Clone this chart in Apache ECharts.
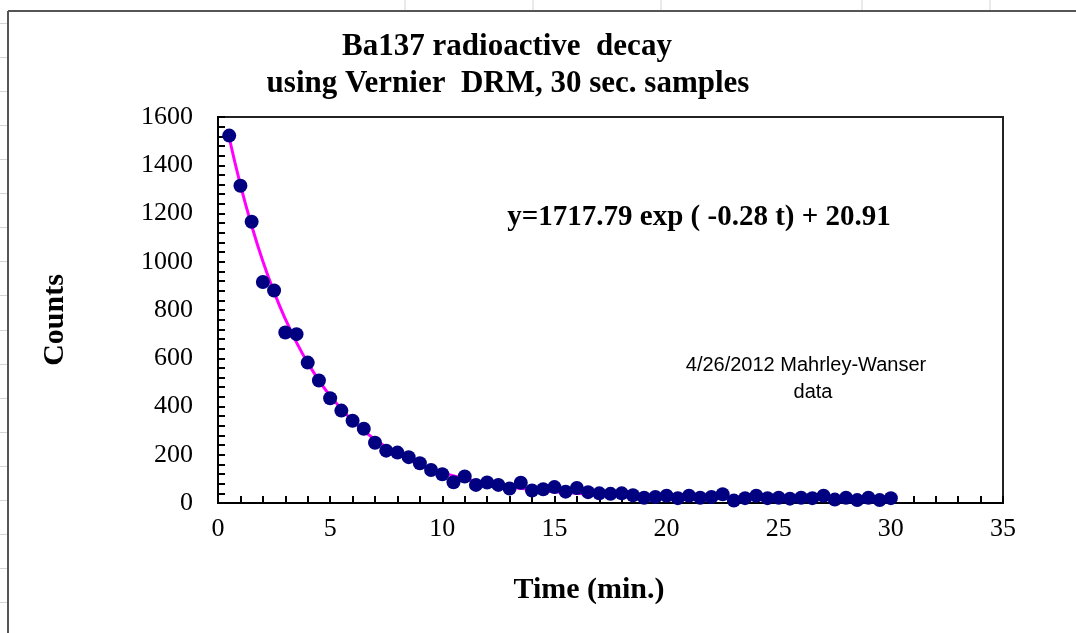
<!DOCTYPE html>
<html>
<head>
<meta charset="utf-8">
<script src="https://cdn.jsdelivr.net/npm/echarts@6/dist/echarts.min.js"></script>
<style>
  html, body { margin: 0; padding: 0; background: #fff; }
  #chart { width: 1076px; height: 633px; }
</style>
</head>
<body>
<div id="chart"></div>
<script>
// sample times (min), one every 30 s
var times = [0.5, 1, 1.5, 2, 2.5, 3, 3.5, 4, 4.5, 5, 5.5, 6, 6.5, 7, 7.5, 8, 8.5, 9, 9.5, 10,
  10.5, 11, 11.5, 12, 12.5, 13, 13.5, 14, 14.5, 15, 15.5, 16, 16.5, 17, 17.5, 18, 18.5, 19, 19.5, 20,
  20.5, 21, 21.5, 22, 22.5, 23, 23.5, 24, 24.5, 25, 25.5, 26, 26.5, 27, 27.5, 28, 28.5, 29, 29.5, 30];
// counts
var counts = [1523, 1315, 1166, 916, 881, 707, 700, 582, 508, 434, 383, 341, 308, 250, 217, 209, 190, 165, 137, 119,
  86, 110, 75, 85, 75, 60, 84, 52, 57, 66, 47, 62, 45, 40, 38, 40, 32, 22, 25, 30,
  20, 30, 22, 25, 36, 10, 20, 30, 20, 22, 18, 22, 20, 30, 14, 22, 12, 22, 12, 20];

// magenta fit curve
var fitTimes = [0.5, 1, 1.5, 2, 2.5, 3, 3.5, 4, 4.5, 5, 6, 7, 8, 9, 10, 12, 14, 16, 18, 20, 25, 30];
var fitCounts = [1514, 1319, 1150, 1002, 874, 763, 666, 581, 508, 445, 341, 263, 204, 159, 125, 81, 55, 40, 32, 27, 23, 21];

var titleLines = ['Ba137 radioactive  decay', 'using Vernier  DRM, 30 sec. samples'];
var equation = 'y=1717.79 exp ( -0.28 t) + 20.91';
var note = ['4/26/2012 Mahrley-Wanser', 'data'];
var xName = 'Time (min.)';
var yName = 'Counts';

var serif = '"Liberation Serif", "Times New Roman", serif';
var sans = '"Liberation Sans", Arial, sans-serif';

var chart = echarts.init(document.getElementById('chart'));

function pairs(xs, ys) {
  var out = [];
  for (var i = 0; i < xs.length; i++) {
    out.push([xs[i], ys[i]]);
  }
  return out;
}

// spreadsheet cell lines round the chart object
var sheetLines = [];
var colX = [405, 533, 661, 862, 990];
for (var i = 0; i < colX.length; i++) {
  sheetLines.push({ type: 'line', shape: { x1: colX[i], y1: 0, x2: colX[i], y2: 10 }, style: { stroke: '#d4d4d4', lineWidth: 1 } });
}
for (var k = 0; k < 18; k++) {
  var yy = Math.round(23 + k * 34.06) + 0.5;
  sheetLines.push({ type: 'line', shape: { x1: 0, y1: yy, x2: 7, y2: yy }, style: { stroke: '#d4d4d4', lineWidth: 1 } });
}
sheetLines.push({ type: 'line', shape: { x1: 8, y1: 11, x2: 1076, y2: 11 }, style: { stroke: '#555', lineWidth: 2 } });
sheetLines.push({ type: 'line', shape: { x1: 8, y1: 11, x2: 8, y2: 633 }, style: { stroke: '#555', lineWidth: 2 } });

var texts = [
  { type: 'text', style: { text: titleLines[0], x: 507, y: 31, font: 'bold 31px ' + serif, fill: '#000', textAlign: 'center' } },
  { type: 'text', style: { text: titleLines[1], x: 508, y: 68, font: 'bold 31px ' + serif, fill: '#000', textAlign: 'center' } },
  { type: 'text', style: { text: equation, x: 699, y: 203, font: 'bold 29px ' + serif, fill: '#000', textAlign: 'center' } },
  { type: 'text', style: { text: note[0], x: 806, y: 355, font: '20px ' + sans, fill: '#000', textAlign: 'center' } },
  { type: 'text', style: { text: note[1], x: 813, y: 382, font: '20px ' + sans, fill: '#000', textAlign: 'center' } },
  { type: 'text', style: { text: xName, x: 589, y: 575, font: 'bold 30px ' + serif, fill: '#000', textAlign: 'center' } },
  { type: 'text', x: 55, y: 320, rotation: Math.PI / 2, style: { text: yName, x: 0, y: 0, font: 'bold 30px ' + serif, fill: '#000', textAlign: 'center', textVerticalAlign: 'middle' } }
];

var option = {
  animation: false,
  backgroundColor: '#fff',
  grid: {
    left: 218, right: 73, top: 117, bottom: 130,
    show: true, borderColor: '#222', borderWidth: 2, backgroundColor: '#fff'
  },
  xAxis: {
    type: 'value',
    min: 0, max: 35, interval: 5,
    axisLine: { show: true, onZero: false, lineStyle: { color: '#000', width: 2 } },
    axisTick: { show: true, inside: true, length: 7, lineStyle: { color: '#000', width: 2 } },
    minorTick: { show: true, splitNumber: 5, length: 7, lineStyle: { color: '#000', width: 2 } },
    splitLine: { show: false },
    axisLabel: { fontFamily: serif, fontSize: 26, color: '#000', margin: 13 }
  },
  yAxis: {
    type: 'value',
    min: 0, max: 1600, interval: 200,
    axisLine: { show: true, lineStyle: { color: '#000', width: 2 } },
    axisTick: { show: true, inside: true, length: 7, lineStyle: { color: '#000', width: 2 } },
    minorTick: { show: true, splitNumber: 5, length: 7, lineStyle: { color: '#000', width: 2 } },
    splitLine: { show: false },
    axisLabel: { fontFamily: serif, fontSize: 26, color: '#000', margin: 25, formatter: function (v) { return String(v); } }
  },
  series: [
    {
      type: 'line',
      data: pairs(fitTimes, fitCounts),
      smooth: true,
      showSymbol: false,
      lineStyle: { color: '#ff00ff', width: 3 },
      z: 2
    },
    {
      type: 'scatter',
      data: pairs(times, counts),
      symbol: 'circle',
      symbolSize: 14,
      itemStyle: { color: '#000080', opacity: 1 },
      z: 3
    }
  ],
  graphic: sheetLines.concat(texts)
};

chart.setOption(option);
</script>
</body>
</html>
